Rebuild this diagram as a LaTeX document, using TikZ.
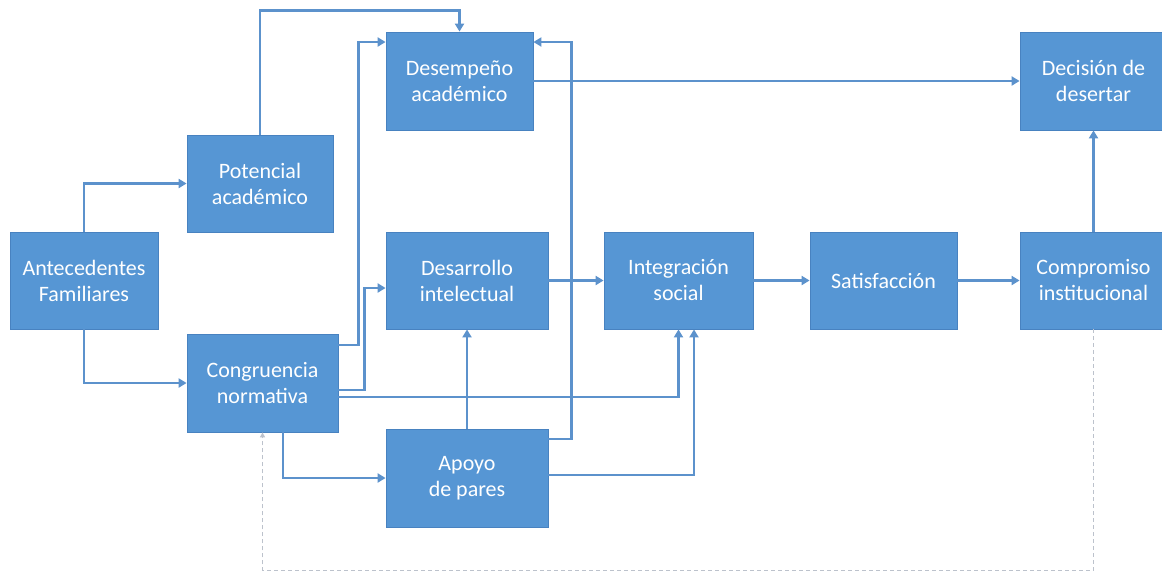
\documentclass[tikz,border=0pt]{standalone}
\usepackage{fontspec}
\setmainfont{Carlito}
\usetikzlibrary{arrows.meta,calc}
\definecolor{boxblue}{RGB}{86,150,212}
\definecolor{boxedge}{RGB}{72,130,192}
\definecolor{linkblue}{RGB}{92,146,204}
\definecolor{dashgray}{RGB}{188,194,204}
\begin{document}
\begin{tikzpicture}[x=1pt,y=-1pt,
  box/.style={draw=boxedge, line width=0.8pt, fill=boxblue, text=white,
    font=\fontsize{22}{26}\selectfont, align=center, inner sep=0pt},
  conn/.style={draw=linkblue, line width=2.6pt,
    -{Triangle[length=8pt,width=9pt]}},
  dashline/.style={draw=dashgray, line width=1.1pt, dash pattern=on 4pt off 3pt,
    -{Triangle[length=5pt,width=5pt]}}
]
\useasboundingbox (0,0) rectangle (1162,571);
\fill[white] (0,0) rectangle (1162,571);

\node[box, minimum width=148pt, minimum height=97pt] (A)  at (84,280.5)   {Antecedentes\\Familiares};
\node[box, minimum width=146pt, minimum height=97pt] (P)  at (260,183.5)  {Potencial\\académico};
\node[box, minimum width=151pt, minimum height=98pt] (C)  at (262.5,383)  {Congruencia\\normativa};
\node[box, minimum width=147pt, minimum height=98pt] (D)  at (459.5,81)   {Desempeño\\académico};
\node[box, minimum width=162pt, minimum height=97pt] (DI) at (467,280.5)  {Desarrollo\\intelectual};
\node[box, minimum width=162pt, minimum height=98pt] (AP) at (467,478)    {Apoyo\\de pares};
\node[box, minimum width=149pt, minimum height=97pt] (IS) at (678.5,280.5){Integración\\social};
\node[box, minimum width=147pt, minimum height=97pt] (S)  at (883.5,280.5){Satisfacción};
\node[box, minimum width=147pt, minimum height=97pt] (CI) at (1093.5,280.5){Compromiso\\institucional};
\node[box, minimum width=147pt, minimum height=98pt] (DD) at (1093.5,81)  {Decisión de\\desertar};

% connectors
\draw[conn] (A.north) |- (P.west);
\draw[conn] (A.south) |- (C.west);
\draw[conn] (P.north) -- ++(0,-124) -| (D.north);
\draw[conn] ($(C.east)+(0,-38)$) -- ++(20,0) |- ($(D.west)+(0,-39)$);
\draw[conn] ($(C.east)+(0,7)$) -- ++(26,0) |- ($(DI.west)+(0,7.5)$);
\draw[conn] ($(C.east)+(0,14)$) -| (IS.south);
\draw[conn] ($(C.south)+(20.5,0)$) |- (AP.west);
\draw[conn] (AP.north) -- (DI.south);
\draw[conn] ($(AP.east)+(0,-39)$) -- ++(23,0) |- ($(D.east)+(0,-39)$);
\draw[conn] ($(AP.east)+(0,-3)$) -| ($(IS.south)+(15.5,0)$);
\draw[conn] (D.east) -- (DD.west);
\draw[conn] (DI.east) -- (IS.west);
\draw[conn] (IS.east) -- (S.west);
\draw[conn] (S.east) -- (CI.west);
\draw[conn] (CI.north) -- (DD.south);
\draw[dashline] (CI.south) -- ++(0,241) -| (C.south);
\end{tikzpicture}
\end{document}
